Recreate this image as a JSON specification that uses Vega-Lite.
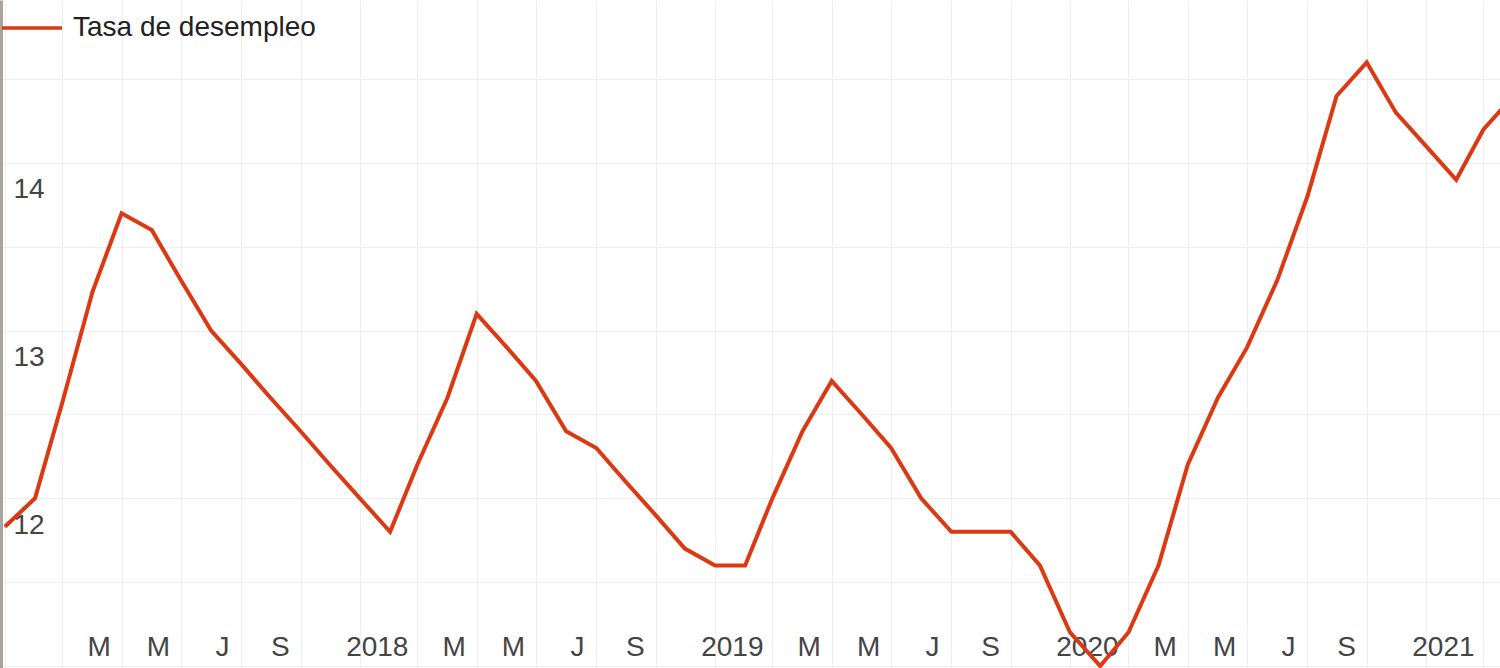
{
  "$schema": "https://vega.github.io/schema/vega-lite/v6.json",
  "width": 1500,
  "height": 668,
  "autosize": "none",
  "padding": 0,
  "background": "white",
  "config": {
    "view": {"stroke": null},
    "font": "Liberation Sans"
  },
  "data": {
    "values": [
      {"fecha": "2017-01-01", "tasa": 11.83, "serie": "Tasa de desempleo"},
      {"fecha": "2017-02-01", "tasa": 12.0, "serie": "Tasa de desempleo"},
      {"fecha": "2017-03-01", "tasa": 12.57, "serie": "Tasa de desempleo"},
      {"fecha": "2017-04-01", "tasa": 13.23, "serie": "Tasa de desempleo"},
      {"fecha": "2017-05-01", "tasa": 13.7, "serie": "Tasa de desempleo"},
      {"fecha": "2017-06-01", "tasa": 13.6, "serie": "Tasa de desempleo"},
      {"fecha": "2017-07-01", "tasa": 13.3, "serie": "Tasa de desempleo"},
      {"fecha": "2017-08-01", "tasa": 13.0, "serie": "Tasa de desempleo"},
      {"fecha": "2017-09-01", "tasa": 12.8, "serie": "Tasa de desempleo"},
      {"fecha": "2017-10-01", "tasa": 12.6, "serie": "Tasa de desempleo"},
      {"fecha": "2017-11-01", "tasa": 12.4, "serie": "Tasa de desempleo"},
      {"fecha": "2017-12-01", "tasa": 12.2, "serie": "Tasa de desempleo"},
      {"fecha": "2018-01-01", "tasa": 12.0, "serie": "Tasa de desempleo"},
      {"fecha": "2018-02-01", "tasa": 11.8, "serie": "Tasa de desempleo"},
      {"fecha": "2018-03-01", "tasa": 12.2, "serie": "Tasa de desempleo"},
      {"fecha": "2018-04-01", "tasa": 12.6, "serie": "Tasa de desempleo"},
      {"fecha": "2018-05-01", "tasa": 13.1, "serie": "Tasa de desempleo"},
      {"fecha": "2018-06-01", "tasa": 12.9, "serie": "Tasa de desempleo"},
      {"fecha": "2018-07-01", "tasa": 12.7, "serie": "Tasa de desempleo"},
      {"fecha": "2018-08-01", "tasa": 12.4, "serie": "Tasa de desempleo"},
      {"fecha": "2018-09-01", "tasa": 12.3, "serie": "Tasa de desempleo"},
      {"fecha": "2018-10-01", "tasa": 12.1, "serie": "Tasa de desempleo"},
      {"fecha": "2018-11-01", "tasa": 11.9, "serie": "Tasa de desempleo"},
      {"fecha": "2018-12-01", "tasa": 11.7, "serie": "Tasa de desempleo"},
      {"fecha": "2019-01-01", "tasa": 11.6, "serie": "Tasa de desempleo"},
      {"fecha": "2019-02-01", "tasa": 11.6, "serie": "Tasa de desempleo"},
      {"fecha": "2019-03-01", "tasa": 12.0, "serie": "Tasa de desempleo"},
      {"fecha": "2019-04-01", "tasa": 12.4, "serie": "Tasa de desempleo"},
      {"fecha": "2019-05-01", "tasa": 12.7, "serie": "Tasa de desempleo"},
      {"fecha": "2019-06-01", "tasa": 12.5, "serie": "Tasa de desempleo"},
      {"fecha": "2019-07-01", "tasa": 12.3, "serie": "Tasa de desempleo"},
      {"fecha": "2019-08-01", "tasa": 12.0, "serie": "Tasa de desempleo"},
      {"fecha": "2019-09-01", "tasa": 11.8, "serie": "Tasa de desempleo"},
      {"fecha": "2019-10-01", "tasa": 11.8, "serie": "Tasa de desempleo"},
      {"fecha": "2019-11-01", "tasa": 11.8, "serie": "Tasa de desempleo"},
      {"fecha": "2019-12-01", "tasa": 11.6, "serie": "Tasa de desempleo"},
      {"fecha": "2020-01-01", "tasa": 11.2, "serie": "Tasa de desempleo"},
      {"fecha": "2020-02-01", "tasa": 11.0, "serie": "Tasa de desempleo"},
      {"fecha": "2020-03-01", "tasa": 11.2, "serie": "Tasa de desempleo"},
      {"fecha": "2020-04-01", "tasa": 11.6, "serie": "Tasa de desempleo"},
      {"fecha": "2020-05-01", "tasa": 12.2, "serie": "Tasa de desempleo"},
      {"fecha": "2020-06-01", "tasa": 12.6, "serie": "Tasa de desempleo"},
      {"fecha": "2020-07-01", "tasa": 12.9, "serie": "Tasa de desempleo"},
      {"fecha": "2020-08-01", "tasa": 13.3, "serie": "Tasa de desempleo"},
      {"fecha": "2020-09-01", "tasa": 13.8, "serie": "Tasa de desempleo"},
      {"fecha": "2020-10-01", "tasa": 14.4, "serie": "Tasa de desempleo"},
      {"fecha": "2020-11-01", "tasa": 14.6, "serie": "Tasa de desempleo"},
      {"fecha": "2020-12-01", "tasa": 14.3, "serie": "Tasa de desempleo"},
      {"fecha": "2021-01-01", "tasa": 14.1, "serie": "Tasa de desempleo"},
      {"fecha": "2021-02-01", "tasa": 13.9, "serie": "Tasa de desempleo"},
      {"fecha": "2021-03-01", "tasa": 14.2, "serie": "Tasa de desempleo"},
      {"fecha": "2021-04-01", "tasa": 14.4, "serie": "Tasa de desempleo"}
    ]
  },
  "mark": {"type": "line", "strokeWidth": 4, "clip": true, "strokeJoin": "miter"},
  "encoding": {
    "x": {
      "field": "fecha",
      "type": "temporal",
      "scale": {
        "type": "utc",
        "domain": [
          {"year": 2016, "month": 12, "date": 27, "utc": true},
          {"year": 2021, "month": 3, "date": 18, "utc": true}
        ]
      },
      "axis": {
        "title": null,
        "orient": "bottom",
        "domain": false,
        "ticks": false,
        "grid": true,
        "gridColor": "#eeeeee",
        "gridWidth": 1,
        "values": [
          {"year": 2017, "month": 1, "date": 1, "utc": true},
          {"year": 2017, "month": 3, "date": 1, "utc": true},
          {"year": 2017, "month": 5, "date": 1, "utc": true},
          {"year": 2017, "month": 7, "date": 1, "utc": true},
          {"year": 2017, "month": 9, "date": 1, "utc": true},
          {"year": 2017, "month": 11, "date": 1, "utc": true},
          {"year": 2018, "month": 1, "date": 1, "utc": true},
          {"year": 2018, "month": 3, "date": 1, "utc": true},
          {"year": 2018, "month": 5, "date": 1, "utc": true},
          {"year": 2018, "month": 7, "date": 1, "utc": true},
          {"year": 2018, "month": 9, "date": 1, "utc": true},
          {"year": 2018, "month": 11, "date": 1, "utc": true},
          {"year": 2019, "month": 1, "date": 1, "utc": true},
          {"year": 2019, "month": 3, "date": 1, "utc": true},
          {"year": 2019, "month": 5, "date": 1, "utc": true},
          {"year": 2019, "month": 7, "date": 1, "utc": true},
          {"year": 2019, "month": 9, "date": 1, "utc": true},
          {"year": 2019, "month": 11, "date": 1, "utc": true},
          {"year": 2020, "month": 1, "date": 1, "utc": true},
          {"year": 2020, "month": 3, "date": 1, "utc": true},
          {"year": 2020, "month": 5, "date": 1, "utc": true},
          {"year": 2020, "month": 7, "date": 1, "utc": true},
          {"year": 2020, "month": 9, "date": 1, "utc": true},
          {"year": 2020, "month": 11, "date": 1, "utc": true},
          {"year": 2021, "month": 1, "date": 1, "utc": true},
          {"year": 2021, "month": 3, "date": 1, "utc": true}
        ],
        "labelExpr": "utcyear(datum.value) == 2021 && utcmonth(datum.value) > 0 ? '' : (utcmonth(datum.value) == 0 ? (utcyear(datum.value) >= 2018 ? utcFormat(datum.value, '%Y') : '') : (utcmonth(datum.value) == 2 || utcmonth(datum.value) == 4 ? 'M' : (utcmonth(datum.value) == 6 ? 'J' : (utcmonth(datum.value) == 8 ? 'S' : ''))))",
        "labelAlign": "right",
        "labelOffset": 48,
        "labelBaseline": "alphabetic",
        "labelPadding": -13,
        "labelFontSize": 28,
        "labelColor": "#444444",
        "labelOverlap": false,
        "labelFlush": false,
        "labelBound": false
      }
    },
    "y": {
      "field": "tasa",
      "type": "quantitative",
      "scale": {"domain": [10.988, 14.972], "zero": false, "nice": false},
      "axis": {
        "title": null,
        "orient": "left",
        "values": [11, 11.5, 12, 12.5, 13, 13.5, 14, 14.5],
        "labelExpr": "datum.value == 12 || datum.value == 13 || datum.value == 14 ? format(datum.value, 'd') : ''",
        "ticks": false,
        "domain": true,
        "domainColor": "#aaa49f",
        "domainWidth": 5,
        "grid": true,
        "gridColor": "#eeeeee",
        "gridWidth": 1,
        "labelAlign": "left",
        "labelBaseline": "alphabetic",
        "labelOffset": 35,
        "labelPadding": -13,
        "labelFontSize": 28,
        "labelColor": "#444444",
        "labelOverlap": false,
        "labelBound": false,
        "labelFlush": false
      }
    },
    "color": {
      "field": "serie",
      "type": "nominal",
      "scale": {"range": ["#dc3912"]},
      "legend": {
        "title": null,
        "orient": "none",
        "legendX": 0,
        "legendY": -4,
        "padding": 0,
        "symbolType": "stroke",
        "symbolSize": 3600,
        "symbolStrokeWidth": 3.5,
        "labelFontSize": 28,
        "labelColor": "#222222",
        "labelOffset": 9,
        "labelLimit": 0
      }
    }
  }
}
